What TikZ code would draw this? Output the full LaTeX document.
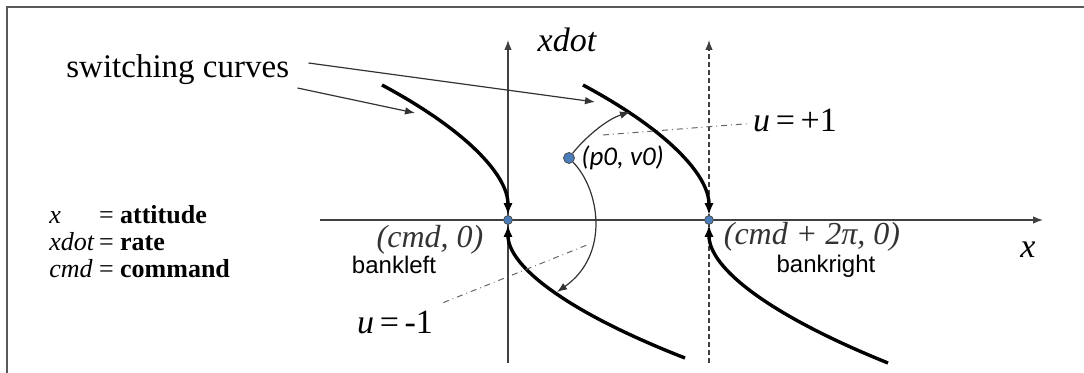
\documentclass[tikz,border=0pt]{standalone}
\usepackage{fontspec}
\setmainfont{Liberation Serif}
\setsansfont{Liberation Sans}
\newfontfamily\calfont{Carlito}
\usetikzlibrary{arrows.meta}
\definecolor{dotblue}{RGB}{74,126,187}

\begin{document}
\begin{tikzpicture}[x=0.5pt,y=-0.5pt,
    >={Latex[length=5pt,width=3.8pt]},
    axis/.style={line width=0.7pt,draw=black!75},
    swcurve/.style={line width=1.7pt,>={Latex[length=6pt,width=4.6pt]}},
    traj/.style={line width=0.6pt,draw=black!80},
    leader/.style={dash dot,line width=0.5pt,draw=black!60},
    pt/.style={circle,draw=black!70,fill=dotblue,line width=0.4pt,minimum size=4.4pt,inner sep=0pt},
    lbl/.style={inner sep=0pt}]
    \useasboundingbox (0,0) rectangle (1084,373);
    % frame
    \draw[line width=1pt,black!65] (7,373) -- (7,7) -- (1084,7);

    % axes
    \coordinate (ylo) at (508,363);
    \coordinate (yhi) at (508,40);
    \coordinate (dlo) at (709,363);
    \coordinate (dhi) at (709,40);
    \coordinate (xlo) at (320,220);
    \coordinate (xhi) at (1043,220);
    \draw[axis,->] (ylo) -- (yhi);
    \draw[axis,dash pattern=on 2.5pt off 1.5pt,->] (dlo) -- (dhi);
    \draw[axis,->] (xlo) -- (xhi);
    \node[lbl,font=\itshape\fontsize{17}{17}\selectfont] (ylbl) at (567,40) {xdot};
    \node[lbl,font=\itshape\fontsize{17}{17}\selectfont] (xlbl) at (1028,250) {x};

    % equilibrium points
    \node[pt] (left0) at (508,220) {};
    \node[pt] (right0) at (709,220) {};
    \node[lbl,text=black!80,font=\itshape\fontsize{16}{16}\selectfont] (cmd0) at (430,240) {(cmd, 0)};
    \node[lbl,text=black!80,font=\itshape\fontsize{16}{16}\selectfont] (cmd2pi) at (812,237) {(cmd + 2π, 0)};
    \node[lbl,font=\sffamily\fontsize{12}{12}\selectfont] (bankl) at (394,265) {bankleft};
    \node[lbl,font=\sffamily\fontsize{12}{12}\selectfont] (bankr) at (826,266) {bankright};

    % switching curves
    \coordinate (swL) at (382,85);
    \coordinate (swR) at (583,85);
    \coordinate (swLb) at (685,358);
    \coordinate (swRb) at (888,363);
    \draw[swcurve,->] (swL) .. controls (466,130) and (508,175) .. (left0);
    \draw[swcurve,->] (swR) .. controls (667,130) and (709,175) .. (right0);
    \draw[swcurve,<-] (left0) .. controls (508,266) and (567,312) .. (swLb);
    \draw[swcurve,<-] (right0) .. controls (709,268) and (769,315) .. (swRb);

    % initial state and its two paths
    \node[pt,minimum size=5.5pt] (p0) at (569,158) {};
    \node[lbl,anchor=west,font=\calfont\itshape\fontsize{13.5}{13.5}\selectfont] (p0lbl) at (581,158) {(p0, v0)};
    \coordinate (hitR) at (630,112);
    \coordinate (hitL) at (557,292);
    \draw[traj,->] (p0) .. controls (583,140) and (605,120) .. (hitR);
    \draw[traj,->] (p0) .. controls (600,190) and (610,255) .. (hitL);

    % control labels
    \node[lbl,inner sep=3pt,font=\fontsize{17}{17}\selectfont] (uplus) at (795,120) {\textit{u}\,=\,+1};
    \node[lbl,inner sep=5pt,font=\fontsize{17}{17}\selectfont] (uminus) at (395,322) {\textit{u}\,=\,-1};
    \coordinate (upl) at (603,135);
    \coordinate (umi) at (587,245);
    \draw[leader] (upl) -- (uplus);
    \draw[leader] (uminus) -- (umi);

    % switching curves label
    \node[lbl,anchor=west,font=\fontsize{16.5}{18}\selectfont] (swlbl) at (66,70) {switching curves};
    \coordinate (swtipR) at (595,102);
    \coordinate (swtipL) at (415,113);
    \draw[traj,->] ([shift={(19,-7)}]swlbl.east) -- (swtipR);
    \draw[traj,->] ([shift={(8,18)}]swlbl.east) -- (swtipL);

    % legend
    \node[lbl,anchor=west,font=\fontsize{13}{13.5}\selectfont] (defs) at (49,245)
        {\begin{tabular}{@{}l@{\,}l@{}}
         \textit{x} & = \textbf{attitude}\\
         \textit{xdot} & = \textbf{rate}\\
         \textit{cmd} & = \textbf{command}
         \end{tabular}};
\end{tikzpicture}
\end{document}
